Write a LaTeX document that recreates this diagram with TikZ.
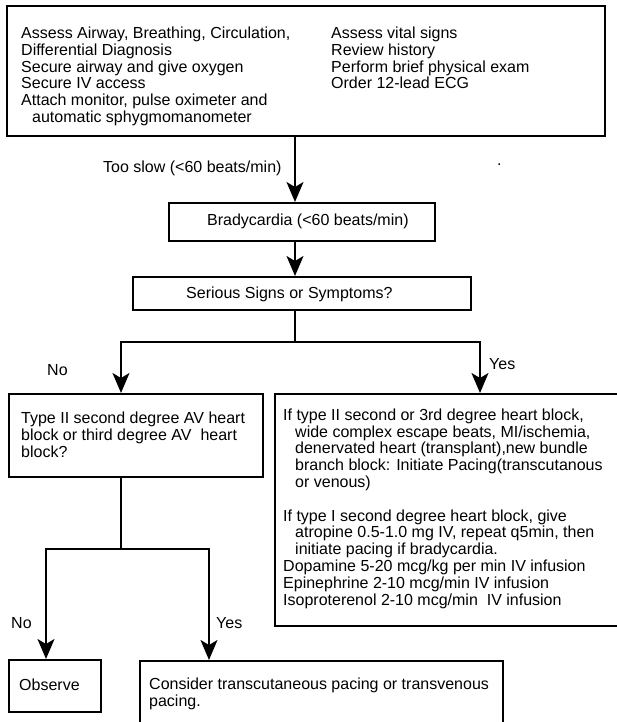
\documentclass[tikz,border=0pt]{standalone}
\usepackage{fontspec}
\setmainfont{Liberation Sans}
\usetikzlibrary{arrows.meta}
\begin{document}
\begin{tikzpicture}[x=1pt,y=-1pt,
  every node/.style={font=\fontsize{16}{16.7}\selectfont},
  frame/.style={draw, line width=1.7pt, inner sep=0, anchor=north west},
  txt/.style={inner sep=0, anchor=north west, align=left},
  lbl/.style={inner sep=0, anchor=base west},
  link/.style={line width=1.8pt, line join=miter},
  arr/.style={line width=1.8pt, line join=miter, -{Stealth[length=20pt,width=17pt,inset=5pt]}}]
\useasboundingbox (0,0) rectangle (616,722);
\fill[white] (0,0) rectangle (616,722);

% boxes
\node[frame, minimum width=598pt, minimum height=130pt] (top) at (6,5) {};
\node[txt] (topL) at (21,26.8) {\strut Assess Airway, Breathing, Circulation,\\ Differential Diagnosis\\ Secure airway and give oxygen\\ Secure IV access\\ Attach monitor, pulse oximeter and\\ \hspace*{11pt}automatic sphygmomanometer};
\node[txt] (topR) at (331,26.8) {\strut Assess vital signs\\ Review history\\ Perform brief physical exam\\ Order 12-lead ECG};

\node[lbl] (slow) at (103,172.7) {Too slow (<60 beats/min)};
\node[lbl] (dot) at (497,165) {.};

\node[frame, minimum width=266pt, minimum height=38pt] (brady) at (168,202) {};
\node[lbl] (bradyT) at (207,225.7) {Bradycardia (<60 beats/min)};

\node[frame, minimum width=338pt, minimum height=33pt] (serious) at (132,276) {};
\node[lbl] (seriousT) at (186,298.7) {Serious Signs or Symptoms?};

\node[lbl] (no1) at (47,375.7) {No};
\node[lbl] (yes1) at (489,369.7) {Yes};

\node[frame, minimum width=254pt, minimum height=83pt] (leftq) at (8,393) {};
\node[txt] (leftqT) at (21,412) {\strut Type II second degree AV heart\\ block or third degree AV\ \ heart\\ block?};

\node[frame, minimum width=348pt, minimum height=232pt] (rightbox) at (274,393) {};
\node[txt, font=\fontsize{16}{16.8}\selectfont] (rightT) at (283,408.3) {\strut If type II second or 3rd degree heart block,\\
\hspace*{12pt}wide complex escape beats, MI/ischemia,\\
\hspace*{12pt}denervated heart (transplant),new bundle\\
\hspace*{12pt}branch block: Initiate Pacing(transcutanous\\
\hspace*{12pt}or venous)\\[16.8pt]
If type I second degree heart block, give\\
\hspace*{12pt}atropine 0.5-1.0 mg IV, repeat q5min, then\\
\hspace*{12pt}initiate pacing if bradycardia.\\
Dopamine 5-20 mcg/kg per min IV infusion\\
Epinephrine 2-10 mcg/min IV infusion\\
Isoproterenol 2-10 mcg/min\ \ IV infusion};

\node[lbl] (no2) at (11,628.7) {No};
\node[lbl] (yes2) at (216,628.7) {Yes};

\node[frame, minimum width=92pt, minimum height=52pt] (observe) at (8,659) {};
\node[lbl] (observeT) at (19,690.7) {Observe};

\node[frame, minimum width=363pt, minimum height=75pt] (consider) at (139,660) {};
\node[txt, font=\fontsize{16}{17}\selectfont] (considerT) at (149,677) {\strut Consider transcutaneous pacing or transvenous\\ pacing.};

% junction coordinates
\coordinate (a1) at (295,0);
\coordinate (j1) at (295,342);
\coordinate (jL) at (121,342);
\coordinate (jR) at (480,342);
\coordinate (k1) at (121,549);
\coordinate (kL) at (46,549);
\coordinate (kR) at (209,549);

% connectors
\draw[arr] (top.south -| a1) -- (brady.north -| a1);
\draw[arr] (brady.south -| a1) -- (serious.north -| a1);
\draw[link] (serious.south -| j1) -- (j1);
\draw[arr] (j1) -- (jL) -- (leftq.north -| jL);
\draw[arr] (j1) -- (jR) -- (rightbox.north -| jR);
\draw[link] (leftq.south -| k1) -- (k1);
\draw[arr] (k1) -- (kL) -- (observe.north -| kL);
\draw[arr] (k1) -- (kR) -- (consider.north -| kR);
\end{tikzpicture}
\end{document}
